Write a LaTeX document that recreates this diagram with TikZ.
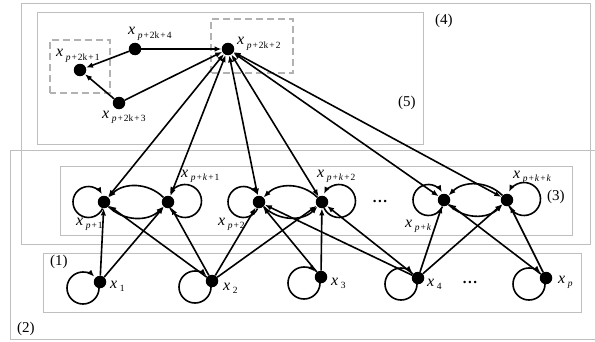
\documentclass[tikz,border=0pt]{standalone}
\usepackage{fontspec}
\setmainfont{Liberation Serif}
\usetikzlibrary{arrows.meta,calc}
\newcommand{\xlab}[1]{\textit{x}\hspace{2.5pt}\raisebox{-3.5pt}{\fontsize{9.5}{10}\selectfont #1}}
\newcommand{\ip}{\textit{p}}
\newcommand{\ik}{\textit{k}}
\newcommand{\pl}{\hspace{1pt}+\hspace{1pt}}
\begin{document}
\begin{tikzpicture}[x=1pt,y=1pt,
  dot/.style={circle,fill=black,inner sep=0pt,minimum size=12.5pt},
  lab/.style={anchor=base west,inner sep=0pt,font=\fontsize{16}{16}\selectfont},
  boxlab/.style={anchor=base west,inner sep=0pt,font=\fontsize{15}{15}\selectfont},
  dots/.style={anchor=base,inner sep=0pt,font=\fontsize{15}{15}\selectfont\bfseries},
  box/.style={draw=black!25,line width=1pt},
  dbox/.style={draw=black!30,dash pattern=on 7pt off 4pt,line width=1.6pt},
  edge/.style={line width=1.6pt,-{Latex[length=7pt,width=5.5pt]}},
  bedge/.style={line width=1.6pt,{Latex[length=7pt,width=5.5pt]}-{Latex[length=7pt,width=5.5pt]}},
]
\useasboundingbox (0,0) rectangle (595,341);
\clip (0,0) rectangle (595,341);
% boxes
\draw[box] (21,97) rectangle (590,337);
\draw[box] (600,191) -- (10,191) -- (10,2) -- (600,2);
\draw[box] (37,197) rectangle (423,328);
\draw[box] (60,106) rectangle (572,175);
\draw[box] (43,29) rectangle (581,88);
\draw[dbox] (50,248) rectangle (110,301);
\draw[dbox] (211,268) rectangle (293,322);
% box labels
\node[boxlab] (L4) at (435,316.5) {(4)};
\node[boxlab] (L5) at (398,235) {(5)};
\node[boxlab] (L3) at (547,140.5) {(3)};
\node[boxlab] (L1) at (50,75.5) {(1)};
\node[boxlab] (L2) at (17,8.5) {(2)};
% nodes
\node[dot] (t1) at (80,271) {};
\node[dot] (t4) at (135,292) {};
\node[dot] (t3) at (119,238) {};
\node[dot] (t2) at (228,292) {};
\node[dot] (m1) at (104,139) {};
\node[dot] (mk1) at (168,139) {};
\node[dot] (m2) at (259,139) {};
\node[dot] (mk2) at (322,139) {};
\node[dot] (m3) at (444,141) {};
\node[dot] (mk3) at (507,141) {};
\node[dot] (b1) at (100,59) {};
\node[dot] (b2) at (212,60) {};
\node[dot] (b3) at (321,64) {};
\node[dot] (b4) at (418,63) {};
\node[dot] (bp) at (546,63) {};
\node[dots] (d1) at (380,139) {.\hspace{1.5pt}.\hspace{1.5pt}.};
\node[dots] (d2) at (470,58) {.\hspace{1.5pt}.\hspace{1.5pt}.};
% labels
\node[lab] (lt1) at (56,284) {\xlab{\ip\pl2k\pl1}};
\node[lab] (lt4) at (128,306) {\xlab{\ip\pl2k\pl4}};
\node[lab] (lt3) at (102,223) {\xlab{\ip\pl2k\pl3}};
\node[lab] (lt2) at (237,296) {\xlab{\ip\pl2k\pl2}};
\node[lab] (lm1) at (76,116) {\xlab{\ip\pl1}};
\node[lab] (lmk1) at (181,164) {\xlab{\ip\pl\ik\pl1}};
\node[lab] (lm2) at (218,116) {\xlab{\ip\pl2}};
\node[lab] (lmk2) at (317,164) {\xlab{\ip\pl\ik\pl2}};
\node[lab] (lm3) at (405,114) {\xlab{\ip\pl\ik}};
\node[lab] (lmk3) at (513,163) {\xlab{\ip\pl\ik\pl\ik}};
\node[lab] (lb1) at (110,53) {\xlab{1}};
\node[lab] (lb2) at (223,51) {\xlab{2}};
\node[lab] (lb3) at (331,56) {\xlab{3}};
\node[lab] (lb4) at (427,55) {\xlab{4}};
\node[lab] (lbp) at (558,58) {\xlab{\ip}};
% top edges
\draw[edge] (t4) -- (t1);
\draw[edge] (t3) -- (t1);
\draw[edge] (t4) -- (t2);
\draw[edge] (t3) -- (t2);
\foreach \n in {m1,mk1,m2,mk2,m3,mk3} \draw[bedge] (t2) -- (\n);
% pair edges
\foreach \a/\b in {m1/mk1,m2/mk2,m3/mk3}{
  \draw[edge] (\b) to[bend right=45] (\a);
  \draw[edge] (\a) to[bend right=45] (\b);
}
% bottom to middle
\foreach \s/\t in {b1/m1,b1/mk1,b2/m1,b2/mk1,b2/m2,b2/mk2,b3/m2,b3/mk2,b4/m2,b4/mk2,b4/m3,b4/mk3,bp/m3,bp/mk3}
  \draw[edge] (\s) -- (\t);
% loops middle left
\foreach \n in {m1,m2,m3}
  \draw[edge] ($(\n)+(-15.5pt,0pt)+(-25:15.5pt)$) arc[start angle=-25,end angle=-330,radius=15.5pt];
% loops middle right
\foreach \n in {mk1,mk2,mk3}
  \draw[edge] ($(\n)+(17pt,1pt)+(205:16.5pt)$) arc[start angle=205,end angle=515,radius=16.5pt];
% loops bottom
\foreach \n in {b1,b2,b3,b4,bp}
  \draw[edge] ($(\n)+(-17pt,-6pt)+(0:16pt)$) arc[start angle=0,end angle=-315,radius=16pt];
\end{tikzpicture}
\end{document}
